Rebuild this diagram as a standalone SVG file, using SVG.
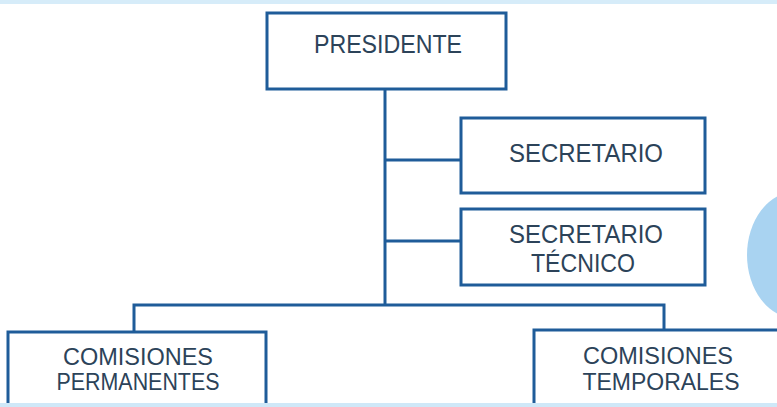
<svg xmlns="http://www.w3.org/2000/svg" width="777" height="407" viewBox="0 0 777 407">
<style>
.box{fill:#ffffff;stroke:#1f5c99;stroke-width:3}
.conn{fill:none;stroke:#1f5c99;stroke-width:3}
.t{font-family:"Liberation Sans",Arial,sans-serif;fill:#2c4359;text-anchor:middle}
.big{font-size:25px}
.sm{font-size:23px}
</style>
<rect x="0" y="0" width="777" height="407" fill="#ffffff"/>
<rect x="0" y="0" width="777" height="4" fill="#d6ecf9"/>
<ellipse cx="795" cy="255" rx="48" ry="63" fill="#a9d3f1"/>
<g id="connectors">
<path class="conn" d="M385 89 V305"/>
<path class="conn" d="M385 160 H461"/>
<path class="conn" d="M385 241 H461"/>
<path class="conn" d="M134 332 V305 H664 V330"/>
</g>
<g id="presidente">
<rect class="box" x="267" y="13" width="239" height="76"/>
<text class="t big" x="388" y="53" textLength="148" lengthAdjust="spacingAndGlyphs">PRESIDENTE</text>
</g>
<g id="secretario">
<rect class="box" x="461" y="118" width="244" height="75"/>
<text class="t big" x="586" y="162" textLength="154" lengthAdjust="spacingAndGlyphs">SECRETARIO</text>
</g>
<g id="secretario-tecnico">
<rect class="box" x="461" y="209" width="244" height="76"/>
<text class="t big" x="586" y="243" textLength="154" lengthAdjust="spacingAndGlyphs">SECRETARIO</text>
<text class="t big" x="583" y="272" textLength="104" lengthAdjust="spacingAndGlyphs">TÉCNICO</text>
</g>
<g id="comisiones-permanentes">
<rect class="box" x="8" y="332" width="258" height="90"/>
<text class="t sm" x="138" y="365" textLength="150" lengthAdjust="spacingAndGlyphs">COMISIONES</text>
<text class="t sm" x="138" y="390" textLength="163" lengthAdjust="spacingAndGlyphs">PERMANENTES</text>
</g>
<g id="comisiones-temporales">
<rect class="box" x="534" y="330" width="254" height="92"/>
<text class="t sm" x="658" y="364" textLength="150" lengthAdjust="spacingAndGlyphs">COMISIONES</text>
<text class="t sm" x="661" y="390" textLength="157" lengthAdjust="spacingAndGlyphs">TEMPORALES</text>
</g>
<rect x="0" y="403" width="777" height="4" fill="#cfe8f8"/>
</svg>
